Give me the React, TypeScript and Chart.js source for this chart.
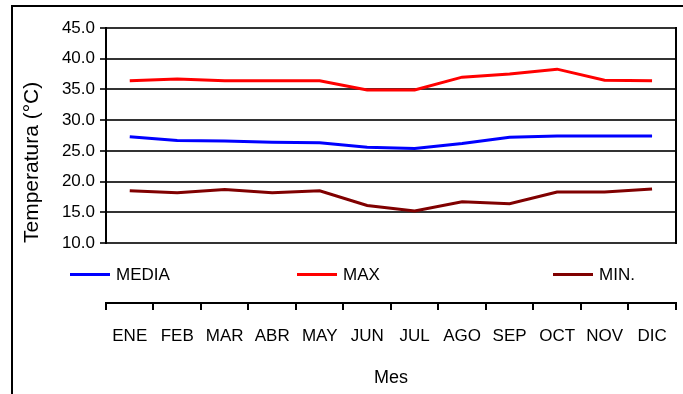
import { useEffect, useRef } from 'react';
import { Chart, registerables } from 'chart.js';

Chart.register(...registerables);

const FONT = '"Liberation Sans", Arial, Helvetica, sans-serif';

// Monthly temperatures (°C)
const months = ['ENE', 'FEB', 'MAR', 'ABR', 'MAY', 'JUN', 'JUL', 'AGO', 'SEP', 'OCT', 'NOV', 'DIC'];
const media = [27.3, 26.7, 26.6, 26.4, 26.3, 25.6, 25.4, 26.2, 27.2, 27.4, 27.4, 27.4];
const maxima = [36.4, 36.7, 36.4, 36.4, 36.4, 34.9, 34.9, 37.0, 37.5, 38.3, 36.5, 36.4];
const minima = [18.5, 18.2, 18.7, 18.2, 18.5, 16.1, 15.2, 16.7, 16.4, 18.3, 18.3, 18.8];

const seriesNames = ['MEDIA', 'MAX', 'MIN.'];
const seriesColors = ['#0000FF', '#FF0000', '#800000'];
const seriesData = [media, maxima, minima];

const yMin = 10;
const yMax = 45;
const yStep = 5;

const xTitle = 'Mes';
const yTitle = 'Temperatura (°C)';

// left edge of each legend entry
const legendLeft = [70, 297, 553];

export default function App() {
  const canvasRef = useRef<HTMLCanvasElement | null>(null);

  useEffect(() => {
    if (!canvasRef.current) return;
    const chart = new Chart(canvasRef.current, {
      type: 'line',
      data: {
        labels: months,
        datasets: seriesData.map((d, i) => ({
          label: seriesNames[i],
          data: d,
          borderColor: seriesColors[i],
          backgroundColor: seriesColors[i],
          borderWidth: 3,
          pointRadius: 0,
          tension: 0,
          xAxisID: 'x',
          yAxisID: 'y',
        })),
      },
      options: {
        responsive: false,
        animation: false,
        devicePixelRatio: 1,
        layout: { padding: { top: 28, right: 5, left: 0, bottom: 0 } },
        plugins: {
          legend: { display: false },
          tooltip: { enabled: false },
        },
        scales: {
          y: {
            position: 'left',
            min: yMin,
            max: yMax,
            afterFit: (s: any) => {
              s.width = 106;
            },
            ticks: {
              stepSize: yStep,
              padding: 5,
              color: '#000',
              font: { family: FONT, size: 17 },
              callback: (v: any) => Number(v).toFixed(1),
            },
            grid: { color: '#333', lineWidth: 2, tickLength: 6 },
            border: { display: true, color: '#000', width: 2 },
            title: {
              display: true,
              text: yTitle,
              align: 'start',
              color: '#000',
              font: { family: FONT, size: 21 },
              padding: { top: 20, bottom: 0 },
            },
          },
          yr: {
            position: 'right',
            min: yMin,
            max: yMax,
            afterFit: (s: any) => {
              s.width = 0;
            },
            ticks: { display: false },
            grid: { display: false },
            border: { display: true, color: '#000', width: 2 },
          },
          gap: {
            type: 'category',
            position: 'bottom',
            weight: 0,
            afterFit: (s: any) => {
              s.height = 60;
            },
            ticks: { display: false },
            grid: { display: false },
            border: { display: false },
          },
          x: {
            type: 'category',
            position: 'bottom',
            weight: 1,
            offset: true,
            afterFit: (s: any) => {
              s.height = 91;
            },
            ticks: {
              padding: 16,
              color: '#000',
              maxRotation: 0,
              autoSkip: false,
              font: { family: FONT, size: 17 },
            },
            grid: {
              offset: true,
              drawOnChartArea: false,
              drawTicks: true,
              tickLength: 7,
              color: '#000',
              lineWidth: 2,
            },
            border: { display: true, color: '#000', width: 2 },
            title: {
              display: true,
              text: xTitle,
              color: '#000',
              font: { family: FONT, size: 18 },
              padding: { top: 0, bottom: 5 },
            },
          },
        },
      },
    });
    return () => chart.destroy();
  }, []);

  return (
    <div style={{ position: 'absolute', left: 0, top: 0, width: 683, height: 394, overflow: 'hidden', background: '#fff' }}>
      <canvas ref={canvasRef} width={683} height={394} style={{ display: 'block', position: 'absolute', left: 0, top: 0 }} />
      <div
        style={{
          position: 'absolute',
          left: 11,
          top: 5,
          width: 760,
          height: 460,
          border: '2px solid #000',
          pointerEvents: 'none',
        }}
      />
      {seriesNames.map((name, i) => (
        <div
          key={name}
          style={{
            position: 'absolute',
            left: legendLeft[i],
            top: 264,
            height: 21,
            display: 'flex',
            alignItems: 'center',
            fontFamily: FONT,
            fontSize: 17,
            color: '#000',
            whiteSpace: 'nowrap',
          }}
        >
          <span style={{ display: 'inline-block', width: 40, height: 3, background: seriesColors[i], marginRight: 6 }} />
          <span>{name}</span>
        </div>
      ))}
    </div>
  );
}
